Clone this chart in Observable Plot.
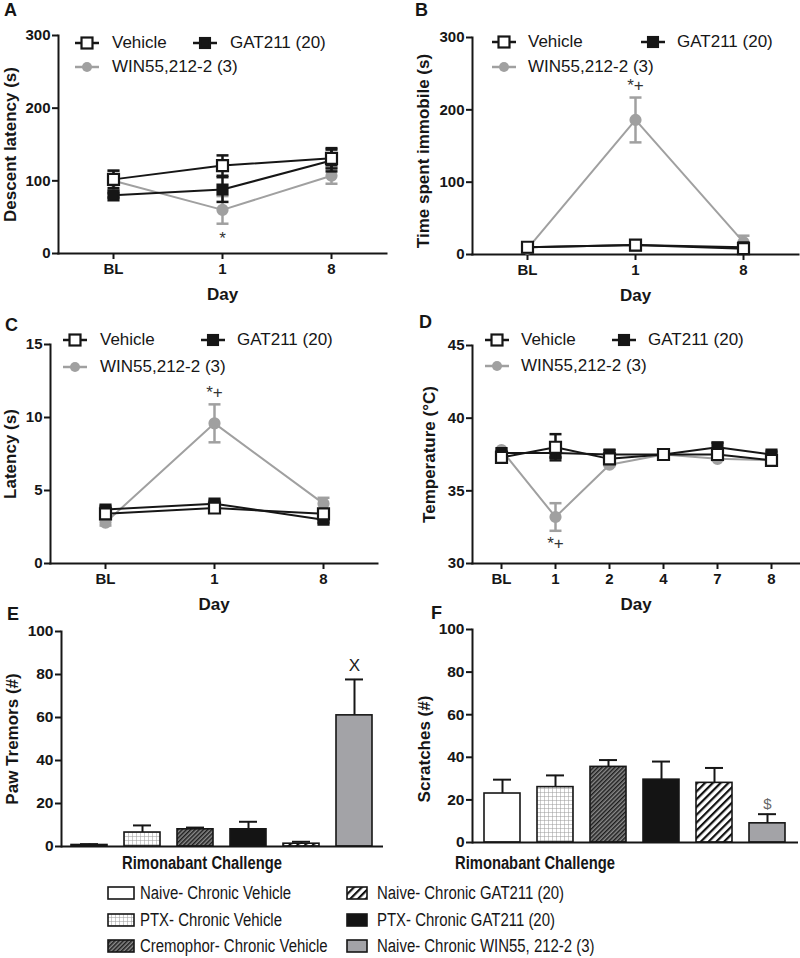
<!DOCTYPE html>
<html><head><meta charset="utf-8">
<script src="https://cdn.jsdelivr.net/npm/d3@7"></script>
<script src="https://cdn.jsdelivr.net/npm/@observablehq/plot@0.6"></script>
<style>
body{margin:0;background:#fff;font-family:"Liberation Sans",Arial,Helvetica,sans-serif;color:#161616;}
#fig{position:relative;width:800px;height:958px;overflow:hidden;background:#fff}
.panel{position:absolute}
.letter{position:absolute;font-weight:bold;font-size:18px;line-height:18px}
.lg{position:absolute;font-size:17px;line-height:20px;white-space:nowrap}
.lgsw{position:absolute}
.xl{position:absolute;font-weight:bold;font-size:18px;line-height:20px;white-space:nowrap;transform:scaleX(0.82);transform-origin:left center}
.bl{position:absolute;font-size:18px;line-height:20px;white-space:nowrap;transform:scaleX(0.83);transform-origin:left center}
</style></head>
<body><div id="fig"></div>
<svg width="0" height="0" style="position:absolute">
  <defs>
    <pattern id="pGrid" width="4" height="4" patternUnits="userSpaceOnUse">
      <rect width="4" height="4" fill="#fff"/>
      <path d="M0 0H4M0 0V4" stroke="#9a9a9a" stroke-width="1"/>
    </pattern>
    <pattern id="pDark" width="3" height="3" patternUnits="userSpaceOnUse" patternTransform="rotate(45)">
      <rect width="3" height="3" fill="#8a8a8a"/>
      <rect width="1.5" height="3" fill="#1e1e1e"/>
    </pattern>
    <pattern id="pHatch" width="5.5" height="5.5" patternUnits="userSpaceOnUse" patternTransform="rotate(45)">
      <rect width="5.5" height="5.5" fill="#fff"/>
      <rect width="2.2" height="5.5" fill="#111"/>
    </pattern>
  </defs>
</svg>
<script>
// ---------- data ----------
const seriesNames = ["Vehicle", "GAT211 (20)", "WIN55,212-2 (3)"];

const daysShort = ["BL", "1", "8"];
const daysLong = ["BL", "1", "2", "4", "7", "8"];

// A: Descent latency (s)
const A_vehicle = [102, 121, 131], A_vehicleErr = [12, 14, 14];
const A_gat = [80, 88, 128], A_gatErr = [3, 17, 15];
const A_win = [100, 60, 107], A_winErr = [14, 19, 11];
const A_ticks = [0, 100, 200, 300];
const A_annot = [{day: "1", y: 21, text: "*"}];

// B: Time spent immobile (s)
const B_vehicle = [10, 13, 8], B_vehicleErr = [3, 3, 3];
const B_gat = [10, 13, 10], B_gatErr = [2, 4, 3];
const B_win = [8, 186, 17], B_winErr = [3, 31, 9];
const B_ticks = [0, 100, 200, 300];
const B_annot = [{day: "1", y: 234, text: "*+"}];

// C: Latency (s)
const C_vehicle = [3.4, 3.8, 3.4], C_vehicleErr = [0.3, 0.3, 0.3];
const C_gat = [3.7, 4.1, 3.0], C_gatErr = [0.2, 0.2, 0.2];
const C_win = [2.8, 9.6, 4.1], C_winErr = [0.2, 1.3, 0.4];
const C_ticks = [0, 5, 10, 15];
const C_annot = [{day: "1", y: 11.7, text: "*+"}];

// D: Temperature (°C)
const D_vehicle = [37.3, 38.0, 37.2, 37.5, 37.5, 37.1], D_vehicleErr = [0.2, 0.9, 0.3, 0.2, 0.3, 0.2];
const D_gat = [37.6, 37.6, 37.5, 37.5, 38.0, 37.5], D_gatErr = [0.1, 0.3, 0.3, 0.1, 0.3, 0.2];
const D_win = [37.8, 33.2, 36.8, 37.5, 37.2, 37.1], D_winErr = [0.1, 0.95, 0.1, 0.1, 0.1, 0.1];
const D_ticks = [30, 35, 40, 45];
const D_annot = [{day: "1", y: 31.4, text: "*+"}];

// E, F: rimonabant challenge bars
const groups = ["Naive- Chronic Vehicle", "PTX- Chronic Vehicle", "Cremophor- Chronic Vehicle",
                "PTX- Chronic GAT211 (20)", "Naive- Chronic GAT211 (20)", "Naive- Chronic WIN55, 212-2 (3)"];
const groupFills = ["#ffffff", "url(#pGrid)", "url(#pDark)", "#141414", "url(#pHatch)", "#a3a3a7"];
const E_values = [0.7, 6.5, 8.0, 8.0, 1.3, 61], E_err = [0.4, 3.3, 0.8, 3.5, 0.9, 16.7];
const F_values = [23, 26, 35.5, 29.5, 28, 9], F_err = [6.5, 5.5, 3.2, 8.5, 7, 4.3];
const EF_ticks = [0, 20, 40, 60, 80, 100];
const E_annot = [{g: groups[5], y: 84, text: "X"}];
const F_annot = [{g: groups[5], y: 18, text: "$"}];

// legend order for bottom legend (two columns)
const legendLeft = [groups[0], groups[1], groups[2]];
const legendRight = [groups[4], groups[3], groups[5]];

// ---------- styling ----------
const BLACK = "#161616", GRAY = "#a0a0a0";
const FONT = '"Liberation Sans", Arial, Helvetica, sans-serif';
const seriesStyle = {
  "Vehicle": {color: BLACK, symbol: "square", r: 6.2, fill: "#fff"},
  "GAT211 (20)": {color: BLACK, symbol: "square", r: 5.6, fill: BLACK},
  "WIN55,212-2 (3)": {color: GRAY, symbol: "circle", r: 5, fill: GRAY}
};
const capSymbol = {draw(ctx, size) { const r = Math.sqrt(size / Math.PI); ctx.moveTo(-r, 0); ctx.lineTo(r, 0); }};

const fig = document.getElementById("fig");

function place(el, left, top) {
  el.classList.add("panel");
  el.style.left = left + "px";
  el.style.top = top + "px";
  fig.appendChild(el);
}

function yTitle(label, dx, dy) {
  return Plot.text([label], {frameAnchor: "left", text: d => d, rotate: -90, textAnchor: "middle",
    dx, dy, fontSize: 17, fontWeight: "bold", fill: BLACK});
}

function linePanel(cfg) {
  const rows = [];
  cfg.series.forEach(s => s.values.forEach((v, i) => rows.push({series: s.name, day: cfg.days[i], value: v, err: s.errs[i]})));
  const marks = [
    Plot.frame({anchor: "left", stroke: BLACK, strokeWidth: 2}),
    Plot.frame({anchor: "bottom", stroke: BLACK, strokeWidth: 2}),
    Plot.axisY({ticks: cfg.ticks, tickSize: 6, tickPadding: 2, strokeWidth: 2, stroke: BLACK,
      fontSize: 15, label: null}),
    yTitle(cfg.ylabel, cfg.yTitleDx, cfg.yTitleDy),
    Plot.axisX({tickSize: 6, tickPadding: 4, strokeWidth: 2, stroke: BLACK, fontSize: 15,
      label: null}),
    Plot.text(["Day"], {frameAnchor: "bottom", text: d => d, dy: cfg.dayDy, fontSize: 17, fontWeight: "bold", fill: BLACK})
  ];
  const order = ["WIN55,212-2 (3)", "GAT211 (20)", "Vehicle"];
  for (const name of order) {
    const st = seriesStyle[name];
    const d = rows.filter(r => r.series === name);
    marks.push(Plot.line(d, {x: "day", y: "value", stroke: st.color, strokeWidth: 2}));
    marks.push(Plot.ruleX(d, {x: "day", y1: r => r.value - r.err, y2: r => r.value + r.err, stroke: st.color, strokeWidth: 2.5}));
    marks.push(Plot.dot(d, {x: "day", y: r => r.value + r.err, symbol: capSymbol, r: 6, stroke: st.color, strokeWidth: 2.5, fill: "none"}));
    marks.push(Plot.dot(d, {x: "day", y: r => r.value - r.err, symbol: capSymbol, r: 6, stroke: st.color, strokeWidth: 2.5, fill: "none"}));
    marks.push(Plot.dot(d, {x: "day", y: "value", symbol: st.symbol, r: st.r, fill: st.fill, stroke: st.color, strokeWidth: 2.2}));
  }
  marks.push(Plot.text(cfg.annot, {x: "day", y: "y", text: "text", fontSize: 17, fontWeight: "normal", fill: "#333"}));
  return Plot.plot({
    width: cfg.width, height: cfg.height,
    marginLeft: cfg.ml, marginRight: cfg.mr, marginTop: cfg.mt, marginBottom: cfg.mb,
    x: {type: "point", domain: cfg.days, padding: 0.5},
    y: {domain: cfg.domain},
    style: {fontFamily: FONT, fontSize: "16px", fontWeight: "bold", color: BLACK, background: "transparent", overflow: "visible"},
    marks
  });
}

function barPanel(cfg) {
  const rows = groups.map((g, i) => ({g, value: cfg.values[i], err: cfg.errs[i], fill: groupFills[i]}));
  const marks = [
    Plot.frame({anchor: "left", stroke: BLACK, strokeWidth: 2}),
    Plot.axisY({ticks: EF_ticks, tickSize: 6, tickPadding: 2, strokeWidth: 2, stroke: BLACK,
      fontSize: 15.5, label: null}),
    yTitle(cfg.ylabel, cfg.yTitleDx, cfg.yTitleDy)
  ];
  marks.push(Plot.ruleX(rows, {x: "g", y1: "value", y2: r => r.value + r.err, stroke: BLACK, strokeWidth: 2}));
  marks.push(Plot.tickY(rows, {x: "g", y: r => r.value + r.err, stroke: BLACK, strokeWidth: 2, insetLeft: 9, insetRight: 9}));
  rows.forEach(r => {
    marks.push(Plot.barY([r], {x: "g", y: "value", fill: r.fill, stroke: BLACK, strokeWidth: 1.6}));
  });
  marks.push(Plot.ruleY([0], {stroke: BLACK, strokeWidth: 2}));
  marks.push(Plot.text(cfg.annot, {x: "g", y: "y", text: "text", fontSize: cfg.annotSize, fontWeight: "normal", fill: cfg.annotColor}));
  return Plot.plot({
    width: cfg.width, height: cfg.height,
    marginLeft: cfg.ml, marginRight: cfg.mr, marginTop: cfg.mt, marginBottom: cfg.mb,
    x: {type: "band", domain: groups, paddingInner: 0.32, paddingOuter: cfg.po, axis: null},
    y: {domain: [0, 100]},
    style: {fontFamily: FONT, fontSize: "17px", fontWeight: "bold", color: BLACK, background: "transparent", overflow: "visible"},
    marks
  });
}

function mk(name, values, errs) { return {name, values, errs}; }

place(linePanel({width: 400, height: 305, ml: 58, mr: 14, mt: 35, mb: 52, days: daysShort, domain: [0, 300], ticks: A_ticks,
  ylabel: "Descent latency (s)", yTitleDx: -48, yTitleDy: 0, dayDy: 46, annot: A_annot,
  series: [mk(seriesNames[0], A_vehicle, A_vehicleErr), mk(seriesNames[1], A_gat, A_gatErr), mk(seriesNames[2], A_win, A_winErr)]}), 0, 0);
place(linePanel({width: 400, height: 305, ml: 72, mr: 2, mt: 37, mb: 51, days: daysShort, domain: [0, 300], ticks: B_ticks,
  ylabel: "Time spent immobile (s)", yTitleDx: -49, yTitleDy: 5, dayDy: 46, annot: B_annot,
  series: [mk(seriesNames[0], B_vehicle, B_vehicleErr), mk(seriesNames[1], B_gat, B_gatErr), mk(seriesNames[2], B_win, B_winErr)]}), 400, 0);
place(linePanel({width: 400, height: 315, ml: 50, mr: 23, mt: 44, mb: 52, days: daysShort, domain: [0, 15], ticks: C_ticks,
  ylabel: "Latency (s)", yTitleDx: -40, yTitleDy: 0, dayDy: 46, annot: C_annot,
  series: [mk(seriesNames[0], C_vehicle, C_vehicleErr), mk(seriesNames[1], C_gat, C_gatErr), mk(seriesNames[2], C_win, C_winErr)]}), 0, 300);
place(linePanel({width: 400, height: 315, ml: 72, mr: 1, mt: 45, mb: 52, days: daysLong, domain: [30, 45], ticks: D_ticks,
  ylabel: "Temperature (°C)", yTitleDx: -43, yTitleDy: 0, dayDy: 46, annot: D_annot,
  series: [mk(seriesNames[0], D_vehicle, D_vehicleErr), mk(seriesNames[1], D_gat, D_gatErr), mk(seriesNames[2], D_win, D_winErr)]}), 400, 300);
place(barPanel({width: 400, height: 250, ml: 61, mr: 17, mt: 19, mb: 16, po: 0.16, values: E_values, errs: E_err,
  ylabel: "Paw Tremors (#)", yTitleDx: -49, yTitleDy: 0, annot: E_annot, annotSize: 17, annotColor: "#222"}), 0, 612);
place(barPanel({width: 400, height: 250, ml: 72, mr: 2, mt: 17, mb: 20, po: 0.2, values: F_values, errs: F_err,
  ylabel: "Scratches (#)", yTitleDx: -48, yTitleDy: 13, annot: F_annot, annotSize: 15, annotColor: "#666"}), 400, 612);

// panel letters
[["A", 4, 2], ["B", 415, 2], ["C", 5, 317], ["D", 419, 314], ["E", 7, 606], ["F", 431, 605]].forEach(([t, x, y]) => {
  const d = document.createElement("div"); d.className = "letter"; d.textContent = t;
  d.style.left = x + "px"; d.style.top = (y - 1) + "px"; fig.appendChild(d);
});

// line-chart legends
function swatchSVG(name) {
  const st = seriesStyle[name];
  const s = d3.create("svg").attr("width", 26).attr("height", 16);
  s.append("line").attr("x1", 1).attr("x2", 25).attr("y1", 8).attr("y2", 8).attr("stroke", st.color).attr("stroke-width", 2.5);
  if (st.symbol === "square") {
    const side = st.r * 1.77;
    s.append("rect").attr("x", 13 - side / 2).attr("y", 8 - side / 2).attr("width", side).attr("height", side)
      .attr("fill", st.fill).attr("stroke", st.color).attr("stroke-width", 2.2);
  } else {
    s.append("circle").attr("cx", 13).attr("cy", 8).attr("r", st.r).attr("fill", st.fill);
  }
  return s.node();
}
function legendEntry(name, sx, tx, cy) {
  const sw = swatchSVG(name); sw.classList.add("lgsw");
  sw.style.left = sx + "px"; sw.style.top = (cy - 8) + "px"; fig.appendChild(sw);
  const t = document.createElement("div"); t.className = "lg"; t.textContent = name;
  t.style.left = tx + "px"; t.style.top = (cy - 10) + "px"; fig.appendChild(t);
}
const lineLegends = [
  {sx1: 74, tx1: 112, sx2: 192, tx2: 230, y1: 43, y2: 67},
  {sx1: 491, tx1: 528, sx2: 640, tx2: 677, y1: 42, y2: 67},
  {sx1: 62, tx1: 100, sx2: 200, tx2: 237, y1: 340, y2: 367},
  {sx1: 484, tx1: 521, sx2: 611, tx2: 648, y1: 340, y2: 366}
];
lineLegends.forEach(L => {
  legendEntry(seriesNames[0], L.sx1, L.tx1, L.y1);
  legendEntry(seriesNames[1], L.sx2, L.tx2, L.y1);
  legendEntry(seriesNames[2], L.sx1, L.tx1, L.y2);
});

// x labels for bar panels
[["Rimonabant Challenge", 122, 863], ["Rimonabant Challenge", 455, 863]].forEach(([t, x, y]) => {
  const d = document.createElement("div"); d.className = "xl"; d.textContent = t;
  d.style.left = x + "px"; d.style.top = (y - 10) + "px"; fig.appendChild(d);
});

// bottom legend
function barLegend(name, sx, sw, tx, cy) {
  const s = d3.create("svg").attr("width", sw + 2).attr("height", 15).attr("class", "lgsw")
    .style("left", sx + "px").style("top", (cy - 7) + "px");
  s.append("rect").attr("x", 1).attr("y", 1).attr("width", sw - 1).attr("height", 12)
    .attr("fill", groupFills[groups.indexOf(name)]).attr("stroke", BLACK).attr("stroke-width", 1.6);
  fig.appendChild(s.node());
  const t = document.createElement("div"); t.className = "bl"; t.textContent = name;
  t.style.left = tx + "px"; t.style.top = (cy - 10) + "px"; fig.appendChild(t);
}
const rowsY = [893, 920, 946];
legendLeft.forEach((g, i) => barLegend(g, 107, 27, 140, rowsY[i]));
legendRight.forEach((g, i) => barLegend(g, 346, 21, 377, rowsY[i]));
</script>
</body></html>
